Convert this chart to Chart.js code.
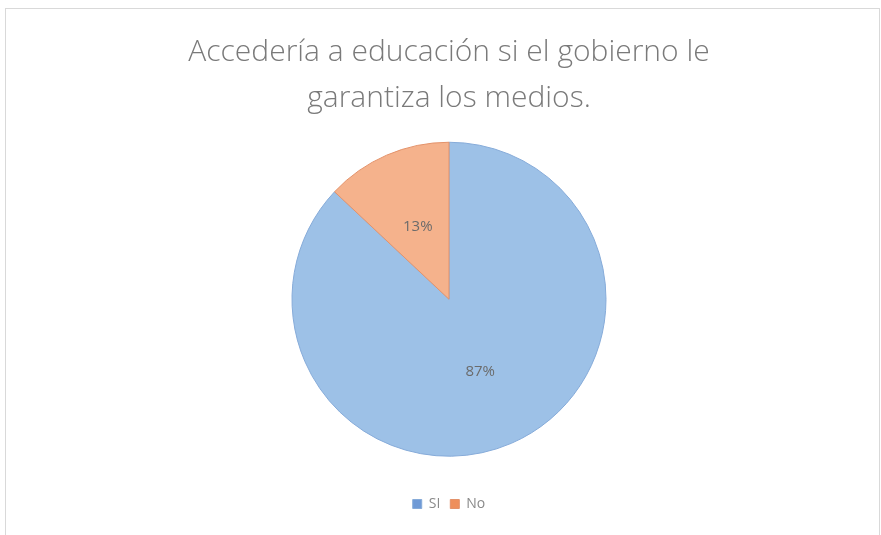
<!DOCTYPE html>
<html>
<head>
<meta charset="utf-8">
<script src="https://cdn.jsdelivr.net/npm/chart.js@4/dist/chart.umd.min.js"></script>
<style>
  html, body { margin: 0; padding: 0; background: #fff; }
  #wrap { position: relative; width: 881px; height: 535px; }
  #frame { position: absolute; left: 5px; top: 8px; width: 873px; height: 540px; border: 1px solid #d9d9d9; }
  canvas { position: absolute; left: 0; top: 0; }
</style>
</head>
<body>
<div id="wrap">
  <div id="frame"></div>
  <canvas id="myChart1" width="881" height="535"></canvas>
</div>
<script>
const titleLines = ["Accedería a educación si el gobierno le", "garantiza los medios."];
const labels = ["SI", "No"];
const values = [87, 13];
const fills = ["#9dc1e7", "#f5b28c"];
const borders = ["#86abd9", "#e3926a"];
const legendBoxes = ["#6f9ad6", "#ee8f5c"];

// porcentajes dentro de cada porción
const pctLabels = {
    id: "pctLabels",
    afterDatasetsDraw(chart) {
        const ctx = chart.ctx;
        const meta = chart.getDatasetMeta(0);
        const total = values.reduce((a, b) => a + b, 0);
        ctx.save();
        ctx.font = "15px 'Open Sans', sans-serif";
        ctx.fillStyle = "#6b6b6b";
        ctx.textAlign = "center";
        ctx.textBaseline = "middle";
        meta.data.forEach((arc, i) => {
            const p = arc.tooltipPosition();
            ctx.fillText(Math.round(values[i] / total * 100) + "%", p.x, p.y);
        });
        ctx.restore();
    },
};

const ctx = document.getElementById("myChart1").getContext("2d");
const myChart = new Chart(ctx, {
    type: "pie",
    data: {
        labels: labels,
        datasets: [
            {
                data: values,
                backgroundColor: fills,
                borderColor: borders,
                borderWidth: 1,
                radius: 157,
            },
        ],
    },
    options: {
        responsive: false,
        animation: false,
        layout: {
            padding: { left: 17, right: 0, top: 0, bottom: 14 },
        },
        plugins: {
            title: {
                display: true,
                text: titleLines,
                color: "#7a7a7a",
                font: { family: "'Open Sans', sans-serif", size: 30, weight: 300, lineHeight: 1.533 },
                padding: { top: 29, bottom: -9.5 },
            },
            legend: {
                position: "bottom",
                labels: {
                    boxWidth: 9,
                    boxHeight: 9,
                    padding: 10,
                    color: "#8a8a8a",
                    font: { family: "'Open Sans', sans-serif", size: 14 },
                    generateLabels(chart) {
                        return labels.map((l, i) => ({
                            text: l,
                            fillStyle: legendBoxes[i],
                            strokeStyle: borders[i],
                            lineWidth: 1,
                            fontColor: "#8a8a8a",
                            index: i,
                        }));
                    },
                },
            },
            tooltip: { enabled: false },
        },
    },
    plugins: [pctLabels],
});
</script>
</body>
</html>
